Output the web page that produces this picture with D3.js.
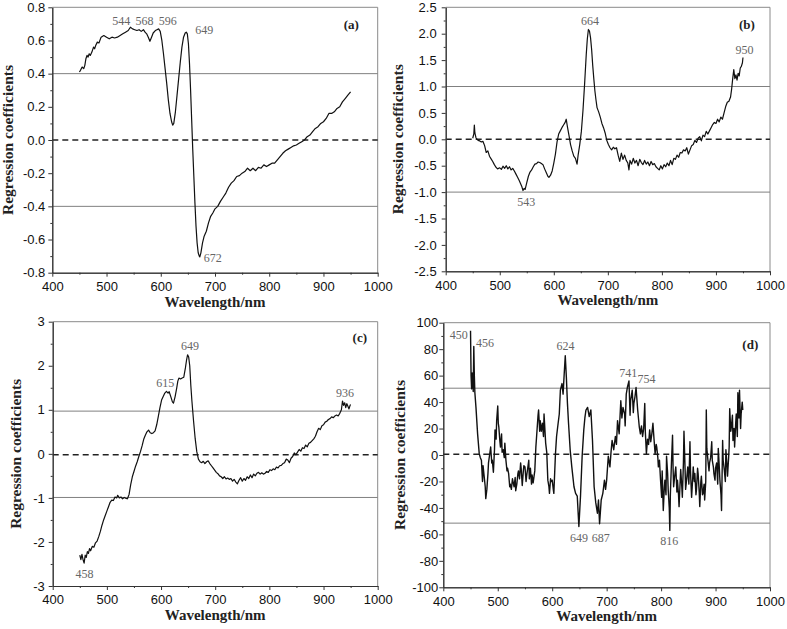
<!DOCTYPE html>
<html>
<head>
<meta charset="utf-8">
<script src="https://cdn.jsdelivr.net/npm/d3@7"></script>
<style>
  body { margin: 0; background: #fff; }
  svg { display: block; }
</style>
</head>
<body>
<svg id="chart" width="787" height="629"></svg>
<script>
// Regression coefficients vs wavelength, four panels (a)-(d)

const xTicks = [400, 500, 600, 700, 800, 900, 1000];

const yTicksA = [-0.8, -0.6, -0.4, -0.2, 0, 0.2, 0.4, 0.6, 0.8];
const yTicksB = [-2.5, -2, -1.5, -1, -0.5, 0, 0.5, 1, 1.5, 2, 2.5];
const yTicksC = [-3, -2, -1, 0, 1, 2, 3];
const yTicksD = [-100, -80, -60, -40, -20, 0, 20, 40, 60, 80, 100];

// [wavelength, coefficient]
const seriesA = [
  [450,0.41],[452,0.42],[455,0.44],[458,0.43],[460,0.45],[462,0.49],[464,0.51],[466,0.50],[468,0.52],[470,0.51],
  [473,0.53],[476,0.56],[478,0.55],[480,0.57],[483,0.59],[486,0.585],[490,0.62],[495,0.63],[500,0.62],[505,0.61],[510,0.62],
  [515,0.615],[520,0.62],[525,0.63],[530,0.64],[535,0.65],[540,0.66],[544,0.68],[548,0.67],[552,0.665],[556,0.66],
  [560,0.665],[564,0.655],[568,0.665],[571,0.65],[574,0.64],[577,0.62],[580,0.595],[583,0.62],[586,0.645],[590,0.66],
  [593,0.665],[596,0.67],[599,0.655],[602,0.60],[605,0.52],[608,0.43],[611,0.34],[614,0.24],[617,0.16],[620,0.11],
  [622,0.09],[624,0.10],[627,0.17],[630,0.27],[633,0.37],[636,0.47],[639,0.56],[642,0.62],[645,0.645],[647,0.65],
  [649,0.64],[651,0.58],[653,0.46],[655,0.30],[657,0.12],[659,-0.06],[661,-0.22],[663,-0.38],[665,-0.52],[667,-0.62],
  [669,-0.68],[671,-0.70],[672,-0.705],[674,-0.68],[677,-0.62],[680,-0.58],[684,-0.55],[688,-0.50],[692,-0.46],[696,-0.44],
  [700,-0.415],[705,-0.40],[710,-0.37],[715,-0.345],[720,-0.32],[725,-0.285],[730,-0.26],[735,-0.245],[740,-0.22],[745,-0.215],
  [750,-0.20],[755,-0.19],[760,-0.17],[765,-0.185],[770,-0.17],[775,-0.185],[780,-0.165],[785,-0.17],[790,-0.15],[795,-0.16],
  [800,-0.15],[805,-0.14],[810,-0.14],[815,-0.12],[820,-0.10],[825,-0.08],[830,-0.065],[835,-0.055],[840,-0.045],[845,-0.035],
  [850,-0.03],[855,-0.02],[860,-0.01],[865,0.0],[870,0.02],[875,0.03],[880,0.05],[885,0.07],[890,0.08],[895,0.10],
  [900,0.11],[905,0.13],[910,0.16],[915,0.16],[920,0.17],[925,0.19],[930,0.20],[935,0.23],[940,0.25],[945,0.27],[950,0.29]
];

const seriesB = [
  [450,0.02],[452,0.10],[453,0.27],[454,0.12],[456,0.03],[458,0.0],[460,-0.02],[463,-0.03],[466,-0.05],[469,-0.04],
  [472,-0.12],[475,-0.25],[478,-0.22],[481,-0.32],[484,-0.37],[487,-0.42],[490,-0.48],[493,-0.53],[496,-0.56],[500,-0.54],
  [503,-0.57],[506,-0.51],[509,-0.55],[512,-0.50],[515,-0.56],[518,-0.52],[521,-0.58],[524,-0.55],[527,-0.60],[530,-0.66],
  [533,-0.72],[536,-0.78],[539,-0.85],[541,-0.90],[543,-0.97],[545,-0.93],[547,-0.95],[550,-0.82],[553,-0.70],[556,-0.62],
  [559,-0.58],[562,-0.52],[565,-0.47],[568,-0.46],[571,-0.43],[574,-0.44],[577,-0.46],[580,-0.48],[583,-0.56],[586,-0.63],
  [589,-0.70],[591,-0.72],[594,-0.68],[597,-0.60],[600,-0.45],[603,-0.28],[606,-0.05],[609,0.10],[612,0.16],[615,0.22],
  [618,0.27],[621,0.32],[623,0.38],[625,0.25],[628,0.08],[631,-0.10],[634,-0.22],[637,-0.32],[640,-0.36],[643,-0.47],
  [645,-0.30],[648,-0.10],[651,0.15],[654,0.55],[657,1.05],[660,1.60],[662,1.90],[664,2.08],[666,2.05],[668,1.92],
  [670,1.70],[672,1.40],[674,1.15],[676,0.92],[678,0.75],[680,0.60],[683,0.52],[686,0.42],[689,0.30],[692,0.22],
  [695,0.12],[698,-0.02],[701,-0.10],[704,-0.16],[707,-0.20],[710,-0.15],[713,-0.18],[716,-0.16],[719,-0.30],[722,-0.42],
  [725,-0.26],[728,-0.38],[731,-0.30],[734,-0.40],[737,-0.45],[739,-0.58],[741,-0.40],[744,-0.47],[747,-0.36],[750,-0.45],
  [753,-0.40],[756,-0.50],[759,-0.38],[762,-0.44],[765,-0.48],[768,-0.40],[771,-0.47],[774,-0.43],[777,-0.50],[780,-0.42],
  [783,-0.48],[786,-0.46],[789,-0.52],[792,-0.55],[795,-0.58],[798,-0.50],[801,-0.56],[804,-0.48],[807,-0.52],[810,-0.45],
  [813,-0.50],[816,-0.40],[819,-0.48],[822,-0.36],[825,-0.38],[828,-0.30],[831,-0.34],[834,-0.25],[837,-0.26],[840,-0.20],
  [843,-0.22],[846,-0.16],[849,-0.28],[852,-0.20],[855,-0.12],[858,-0.10],[861,-0.02],[864,-0.06],[867,0.02],[870,0.05],
  [873,-0.03],[876,0.08],[879,0.05],[882,0.15],[885,0.10],[888,0.16],[891,0.22],[894,0.28],[897,0.32],[900,0.30],
  [903,0.38],[906,0.33],[909,0.42],[912,0.38],[915,0.50],[918,0.62],[921,0.70],[924,0.72],[927,0.80],[929,0.95],
  [931,1.15],[933,1.32],[935,1.15],[937,1.22],[939,1.12],[941,1.25],[943,1.20],[945,1.35],[947,1.38],[949,1.45],[950,1.55]
];

const seriesC = [
  [450,-2.30],[452,-2.40],[454,-2.28],[456,-2.40],[458,-2.48],[460,-2.30],[462,-2.35],[464,-2.22],[466,-2.26],[468,-2.15],
  [470,-2.20],[473,-2.10],[476,-2.12],[479,-2.02],[482,-1.98],[485,-1.88],[488,-1.76],[491,-1.62],[494,-1.50],[497,-1.40],
  [500,-1.30],[503,-1.20],[506,-1.10],[509,-1.05],[512,-1.06],[515,-0.98],[518,-1.00],[520,-0.94],[523,-1.00],[526,-0.98],
  [529,-1.02],[532,-0.99],[535,-1.01],[538,-1.02],[541,-0.92],[544,-0.70],[547,-0.52],[550,-0.40],[553,-0.28],[556,-0.18],
  [559,-0.06],[562,0.05],[565,0.18],[568,0.33],[571,0.42],[574,0.50],[577,0.54],[580,0.48],[583,0.46],[586,0.48],
  [589,0.52],[592,0.66],[595,0.85],[598,1.05],[601,1.22],[604,1.30],[607,1.38],[610,1.42],[613,1.38],[615,1.41],
  [618,1.30],[621,1.18],[623,1.15],[626,1.30],[629,1.50],[631,1.65],[633,1.72],[636,1.70],[639,1.72],[642,1.74],
  [645,1.95],[647,2.12],[649,2.25],[651,2.20],[653,2.00],[655,1.55],[657,1.20],[660,0.75],[663,0.35],[666,0.05],
  [669,-0.12],[672,-0.18],[675,-0.20],[678,-0.17],[681,-0.22],[684,-0.18],[687,-0.16],[690,-0.22],[693,-0.27],[696,-0.32],
  [699,-0.37],[702,-0.42],[705,-0.45],[708,-0.50],[711,-0.52],[714,-0.56],[717,-0.52],[720,-0.57],[723,-0.55],[726,-0.58],
  [729,-0.56],[732,-0.62],[735,-0.58],[738,-0.64],[741,-0.68],[744,-0.60],[747,-0.54],[750,-0.62],[753,-0.56],[756,-0.60],
  [759,-0.52],[762,-0.56],[765,-0.48],[768,-0.54],[771,-0.46],[774,-0.50],[777,-0.44],[780,-0.42],[783,-0.46],[786,-0.43],
  [789,-0.46],[792,-0.44],[795,-0.40],[798,-0.42],[801,-0.36],[804,-0.38],[807,-0.34],[810,-0.36],[813,-0.30],[816,-0.32],
  [819,-0.27],[822,-0.26],[825,-0.22],[828,-0.20],[831,-0.12],[834,-0.14],[837,-0.20],[840,-0.10],[843,-0.06],[846,0.02],
  [849,-0.02],[852,0.04],[855,0.10],[858,0.06],[861,0.14],[864,0.12],[867,0.20],[870,0.16],[873,0.24],[876,0.26],
  [879,0.30],[882,0.34],[885,0.40],[888,0.50],[891,0.58],[894,0.55],[897,0.64],[900,0.66],[903,0.72],[906,0.74],
  [909,0.78],[912,0.80],[915,0.84],[918,0.82],[921,0.86],[924,0.88],[927,0.86],[930,0.92],[933,1.00],[935,1.20],
  [937,1.10],[939,1.16],[941,1.05],[943,1.14],[945,1.08],[947,1.02],[949,1.10],[950,1.12]
];

const seriesD = [
  [450,94],[451,60],[452,50],[453,62],[455,48],[456,82],[457,60],[458,47],[460,36],[463,16],
  [466,1],[468,-2],[470,-4],[472,-20],[473,-8],[475,-16],[477,-24],[478,-33],[480,-26],[482,-14],[483,-6],[485,0],[487,6],
  [489,-6],[490,-4],[492,-13],[494,4],[495,19],[497,12],[498,26],[500,37],[501,24],[502,21],[504,10],[505,6],[507,16],[508,2],[510,4],[512,-2],[513,9],
  [515,-4],[517,-12],[518,-10],[520,-14],[522,-24],[523,-22],[525,-26],[527,-18],[528,-20],[530,-24],[532,-17],[533,-27],[535,-22],[537,-14],[538,-12],
  [540,-18],[542,-6],[543,-10],[545,-23],[547,-12],[548,-8],[550,-9],[552,-20],[553,-16],[555,-10],[557,-4],[558,-18],[560,-10],[562,-22],[563,-15],
  [565,-21],[568,-12],[570,6],[572,18],[574,30],[575,34],[577,18],[578,26],[580,18],[582,24],[584,14],[585,31],[588,9],
  [590,2],[592,-19],[594,-24],[595,-29],[597,-18],[598,-20],[600,-19],[602,-26],[603,-29],[606,1],[608,14],[610,21],[613,31],
  [615,49],[618,54],[620,46],[622,61],[624,75],[626,59],[628,39],[630,24],[633,4],[636,-9],
  [640,-24],[643,-29],[646,-31],[649,-54],[652,-31],[655,-1],[658,19],[660,28],[662,34],[665,36],
  [668,29],[671,34],[674,11],[677,-24],[680,-36],[683,-44],[685,-34],[687,-52],[690,-34],[693,-29],
  [696,-19],[698,-26],[700,-19],[703,-1],[706,-9],[708,2],[710,11],[713,4],[716,14],[718,8],[720,26],[723,16],[726,41],
  [728,28],[730,36],[733,31],[734,22],[736,46],[738,51],[741,56],[743,30],[744,41],[747,49],[749,32],[750,39],[752,44],[754,51],
  [757,34],[760,21],[762,16],[764,22],[766,14],[768,20],[770,39],[771,18],[773,1],[775,12],[777,8],[779,19],[781,10],
  [783,16],[785,24],[787,12],[789,1],[791,8],[792,6],[794,-2],[795,-9],[797,-4],[799,-19],[801,-32],[802,-12],[804,-42],
  [806,-24],[807,-19],[809,-30],[810,-1],[812,-14],[813,-26],[815,-40],[816,-57],[817,-30],[819,-6],[821,15],[822,-10],
  [823,-24],[825,-16],[827,-9],[829,-28],[830,-19],[832,-30],[833,-39],[835,-20],[836,-11],[838,-24],[839,-32],[841,-6],
  [842,18],[844,-10],[845,-26],[847,-18],[849,-9],[851,-22],[853,10],[854,-12],[856,-32],[858,-18],[859,-9],[861,-20],
  [862,-14],[864,-30],[865,-26],[867,-10],[868,-14],[870,-28],[871,-39],[873,-20],[874,-16],[876,-30],[877,-29],[879,-22],
  [880,-34],[882,-20],[883,34],[884,5],[886,-4],[888,-12],[889,-6],[891,-2],[893,10],[894,-4],[896,-9],[897,-14],
  [899,-19],[900,-10],[902,-6],[904,-22],[905,5],[907,-10],[908,-19],[910,-30],[911,-42],[913,11],[914,-4],[916,-11],
  [918,-20],[919,4],[921,-8],[922,-16],[924,-2],[925,6],[926,35],[928,18],[929,21],[931,30],[932,11],[934,20],
  [935,6],[937,24],[938,31],[940,14],[941,47],[943,28],[944,49],[946,20],[947,31],[949,40],[950,34]
];

// threshold (solid grey) and baseline (dashed) levels
const cutA = [0.4, -0.4];    const baseA = 0;
const cutB = [1.0, -1.0];    const baseB = 0;
const cutC = [0.97, -0.99];  const baseC = -0.02;
const cutD = [50.5, -51.5];  const baseD = 0.5;

// peak labels, anchored in data units
const peaksA = [
  { text: "544", wl: 527, coef: 0.693 }, { text: "568", wl: 570, coef: 0.693 },
  { text: "596", wl: 613, coef: 0.693 }, { text: "649", wl: 680, coef: 0.639 },
  { text: "672", wl: 696, coef: -0.735 }
];
const peaksB = [
  { text: "664", wl: 667, coef: 2.165 }, { text: "950", wl: 953, coef: 1.616 },
  { text: "543", wl: 549, coef: -1.263 }
];
const peaksC = [
  { text: "649", wl: 653.5, coef: 2.358 }, { text: "615", wl: 608, coef: 1.518 },
  { text: "936", wl: 939.6, coef: 1.291 }, { text: "458", wl: 458.7, coef: -2.818 }
];
const peaksD = [
  { text: "450", wl: 428.5, coef: 87.7 }, { text: "456", wl: 476.6, coef: 81.6 },
  { text: "624", wl: 624.4, coef: 79.4 }, { text: "741", wl: 739.8, coef: 59.0 },
  { text: "754", wl: 773.2, coef: 54.4 }, { text: "649", wl: 649.2, coef: -65.8 },
  { text: "687", wl: 689.1, coef: -65.8 }, { text: "816", wl: 815.1, coef: -68.0 }
];

const letters = [
  { text: "(a)", wl: 951.4, coef: 0.669 },
  { text: "(b)", wl: 957.4, coef: 2.089 },
  { text: "(c)", wl: 967, coef: 2.54 },
  { text: "(d)", wl: 963.8, coef: 80.1 }
];

const loc = d3.formatLocale({ decimal: ".", thousands: ",", grouping: [3], currency: ["", ""], minus: "-" });

const panels = [
  { series: seriesA, yTicks: yTicksA, fmt: ".1f", cut: cutA, base: baseA, peaks: peaksA, letter: letters[0],
    box: { l: 52.3, t: 7.3, r: 377.7, b: 272.7 }, titleDx: -39, gap: 7, lw: 1.2 },
  { series: seriesB, yTicks: yTicksB, fmt: ".1f", cut: cutB, base: baseB, peaks: peaksB, letter: letters[1],
    box: { l: 445.7, t: 7.3, r: 770, b: 271.3 }, titleDx: -43, gap: 9, lw: 1.2 },
  { series: seriesC, yTicks: yTicksC, fmt: "d", cut: cutC, base: baseC, peaks: peaksC, letter: letters[2],
    box: { l: 52.7, t: 321.7, r: 377.7, b: 586 }, titleDx: -32, gap: 8, lw: 1.2 },
  { series: seriesD, yTicks: yTicksD, fmt: "d", cut: cutD, base: baseD, peaks: peaksD, letter: letters[3],
    box: { l: 443.3, t: 322.7, r: 770, b: 587.3 }, titleDx: -38, gap: 5, lw: 1.4 }
];

const svg = d3.select("#chart");
const sans = "'Liberation Sans', Arial, sans-serif";
const serif = "'Liberation Serif', 'Times New Roman', serif";

function mids(arr) {
  return arr.slice(1).map((v, i) => (v + arr[i]) / 2);
}

function drawPanel(p) {
  const { l, t, r, b } = p.box;
  const x = d3.scaleLinear().domain([400, 1000]).range([l, r]);
  const y = d3.scaleLinear().domain(d3.extent(p.yTicks)).range([b, t]);
  const g = svg.append("g");

  // frame top/right
  g.append("path")
    .attr("d", `M${l},${t}H${r}V${b}`)
    .attr("fill", "none")
    .attr("stroke", "#8a8a8a")
    .attr("stroke-width", 1);

  // threshold lines
  g.selectAll(".cut")
    .data(p.cut)
    .enter()
    .append("line")
    .attr("x1", l).attr("x2", r)
    .attr("y1", (d) => y(d)).attr("y2", (d) => y(d))
    .attr("stroke", "#808080")
    .attr("stroke-width", 1);

  g.append("line")
    .attr("x1", l).attr("x2", r)
    .attr("y1", y(p.base)).attr("y2", y(p.base))
    .attr("stroke", "#222")
    .attr("stroke-width", 1.5)
    .attr("stroke-dasharray", "6,4");

  // curve
  const line = d3.line().x((d) => x(d[0])).y((d) => y(d[1]));
  g.append("path")
    .datum(p.series)
    .attr("d", line)
    .attr("fill", "none")
    .attr("stroke", "#111")
    .attr("stroke-width", p.lw)
    .attr("stroke-linejoin", "round");

  // axes
  const ya = g.append("g")
    .attr("transform", `translate(${l},0)`)
    .call(d3.axisLeft(y).tickValues(p.yTicks).tickFormat(loc.format(p.fmt))
      .tickSize(4).tickSizeOuter(0).tickPadding(p.gap - 4));
  const yMinor = g.append("g")
    .attr("transform", `translate(${l},0)`)
    .call(d3.axisLeft(y).tickValues(mids(p.yTicks)).tickFormat("").tickSize(2).tickSizeOuter(0));
  const xa = g.append("g")
    .attr("transform", `translate(0,${b})`)
    .call(d3.axisBottom(x).tickValues(xTicks).tickFormat(loc.format("d"))
      .tickSize(4).tickSizeOuter(0).tickPadding(5));
  const xMinor = g.append("g")
    .attr("transform", `translate(0,${b})`)
    .call(d3.axisBottom(x).tickValues(mids(xTicks)).tickFormat("").tickSize(2).tickSizeOuter(0));

  [ya, yMinor, xa, xMinor].forEach((a) => {
    a.attr("color", "#333").attr("font-size", 13).attr("font-family", sans);
    a.selectAll("text").attr("fill", "#111");
  });

  // axis titles
  g.append("text")
    .attr("x", (l + r) / 2)
    .attr("y", b + 34)
    .attr("text-anchor", "middle")
    .attr("font-family", serif)
    .attr("font-weight", "bold")
    .attr("font-size", 15)
    .attr("fill", "#222")
    .text("Wavelength/nm");

  g.append("text")
    .attr("transform", `translate(${l + p.titleDx},${(t + b) / 2}) rotate(-90)`)
    .attr("text-anchor", "middle")
    .attr("font-family", serif)
    .attr("font-weight", "bold")
    .attr("font-size", 15.5)
    .attr("fill", "#222")
    .text("Regression coefficients");

  // peak labels
  g.selectAll(".peak")
    .data(p.peaks)
    .enter()
    .append("text")
    .attr("x", (d) => x(d.wl))
    .attr("y", (d) => y(d.coef))
    .attr("text-anchor", "middle")
    .attr("font-family", serif)
    .attr("font-size", 12)
    .attr("fill", "#666")
    .text((d) => d.text);

  g.append("text")
    .attr("x", x(p.letter.wl))
    .attr("y", y(p.letter.coef))
    .attr("text-anchor", "middle")
    .attr("font-family", serif)
    .attr("font-weight", "bold")
    .attr("font-size", 13)
    .attr("fill", "#222")
    .text(p.letter.text);
}

panels.forEach(drawPanel);
</script>
</body>
</html>
